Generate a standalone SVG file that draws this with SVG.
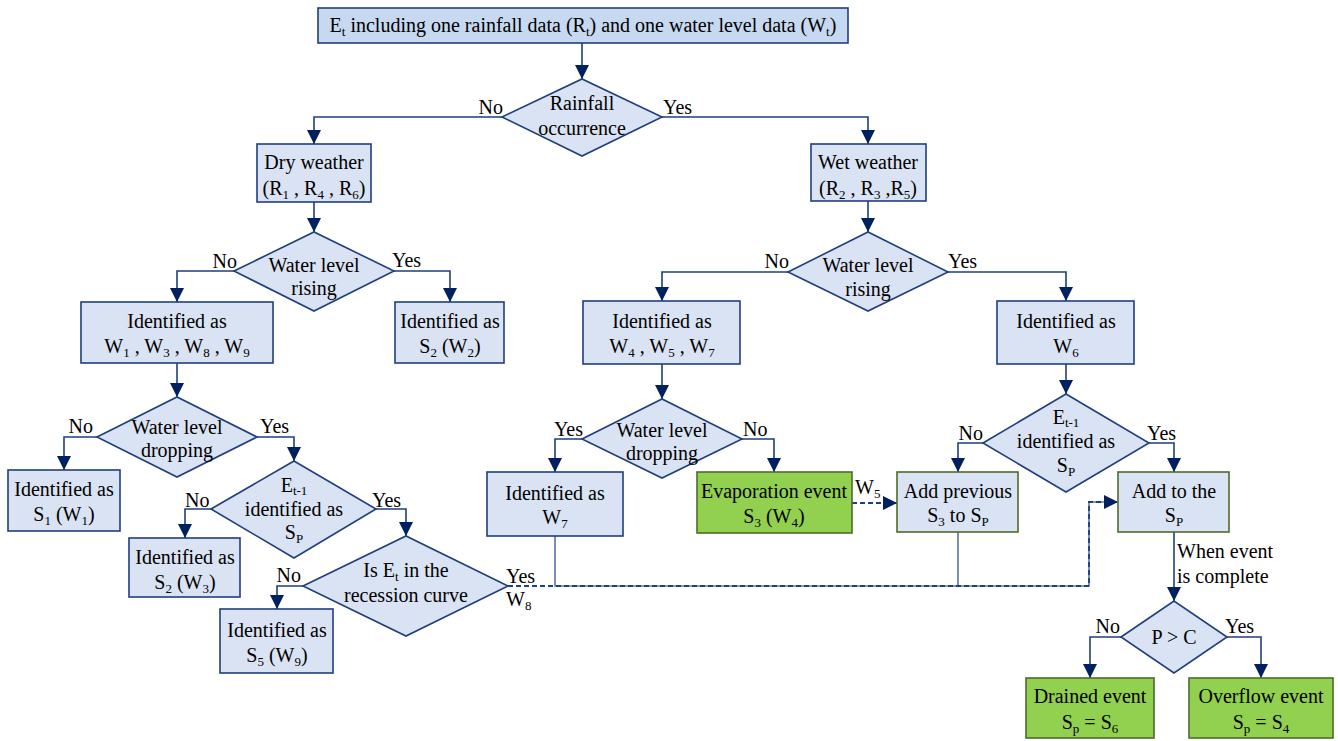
<svg xmlns="http://www.w3.org/2000/svg" width="1338" height="741" viewBox="0 0 1338 741" font-family="'Liberation Serif', 'Times New Roman', 'DejaVu Serif', serif">
<style>
.b{fill:#dae3f3;stroke:#203f7c;stroke-width:1.6}
.t{fill:#c6d9f1;stroke:#203f7c;stroke-width:1.6}
.g{fill:#92d050;stroke:#4f6b2a;stroke-width:1.6}
.bg{fill:#dae3f3;stroke:#4f6b2a;stroke-width:1.6}
.d{fill:#dae3f3;stroke:#203f7c;stroke-width:1.6}
text{font-family:'Liberation Serif', 'Times New Roman', 'DejaVu Serif', serif;font-size:20px;fill:#000}
.c{text-anchor:middle}
.e{text-anchor:end}
.ln{fill:none;stroke:#1f3f7a;stroke-width:1.6}
.sl{fill:none;stroke:#5a73a8;stroke-width:1.6}
.dl{fill:none;stroke:#1f3f7a;stroke-width:1.8;stroke-dasharray:5,3}
</style>
<defs>
<marker id="ah" markerUnits="userSpaceOnUse" markerWidth="14" markerHeight="14" refX="14" refY="7" orient="auto">
<path d="M0,0 L14,7 L0,14 z" fill="#002060"/>
</marker>
</defs>
<g id="connectors">
<path class="ln" d="M582,43 V79" marker-end="url(#ah)"/>
<path class="ln" d="M502,117 H314 V144" marker-end="url(#ah)"/>
<path class="ln" d="M662,117 H868 V144" marker-end="url(#ah)"/>
<path class="ln" d="M314,202 V232" marker-end="url(#ah)"/>
<path class="ln" d="M234,271 H177 V302" marker-end="url(#ah)"/>
<path class="ln" d="M394,271 H450 V302" marker-end="url(#ah)"/>
<path class="ln" d="M177,363 V397" marker-end="url(#ah)"/>
<path class="ln" d="M97,437 H64 V470" marker-end="url(#ah)"/>
<path class="ln" d="M257,437 H294 V461" marker-end="url(#ah)"/>
<path class="ln" d="M211,509 H185 V538" marker-end="url(#ah)"/>
<path class="ln" d="M376,509 H406 V536" marker-end="url(#ah)"/>
<path class="ln" d="M303,586 H277 V609" marker-end="url(#ah)"/>
<path class="sl" d="M555,536 V586 H1089 V502 H1105"/>
<path class="sl" d="M958,532 V586"/>
<path class="dl" d="M508,586 H1089 V502 H1118" marker-end="url(#ah)"/>
<path class="ln" d="M868,201 V232" marker-end="url(#ah)"/>
<path class="ln" d="M788,272 H662 V301" marker-end="url(#ah)"/>
<path class="ln" d="M948,272 H1066 V301" marker-end="url(#ah)"/>
<path class="ln" d="M662,364 V399" marker-end="url(#ah)"/>
<path class="ln" d="M582,439 H555 V472" marker-end="url(#ah)"/>
<path class="ln" d="M742,439 H774 V472" marker-end="url(#ah)"/>
<path class="dl" d="M852,503 H897" marker-end="url(#ah)"/>
<path class="ln" d="M1066,364 V394" marker-end="url(#ah)"/>
<path class="ln" d="M983,443 H958 V472" marker-end="url(#ah)"/>
<path class="ln" d="M1149,443 H1174 V472" marker-end="url(#ah)"/>
<path class="ln" d="M1174,532 V601" marker-end="url(#ah)"/>
<path class="ln" d="M1121,637 H1090 V678" marker-end="url(#ah)"/>
<path class="ln" d="M1227,637 H1261 V678" marker-end="url(#ah)"/>
<text class="e" x="503" y="114">No</text>
<text x="663" y="114">Yes</text>
<text class="e" x="237" y="268">No</text>
<text x="392" y="267">Yes</text>
<text class="e" x="93" y="433">No</text>
<text x="260" y="433">Yes</text>
<text x="185" y="507">No</text>
<text x="372" y="507">Yes</text>
<text class="e" x="301" y="582">No</text>
<text x="506" y="583">Yes</text>
<text x="506" y="606">W<tspan font-size="13" dy="4">8</tspan></text>
<text class="e" x="583" y="436">Yes</text>
<text x="743" y="436">No</text>
<text class="e" x="789" y="268">No</text>
<text x="948" y="268">Yes</text>
<text class="e" x="983" y="440">No</text>
<text x="1147" y="440">Yes</text>
<text x="855" y="494">W<tspan font-size="13" dy="4">5</tspan></text>
<text x="1177" y="558">When event</text>
<text x="1177" y="583">is complete</text>
<text class="e" x="1120" y="633">No</text>
<text x="1225" y="633">Yes</text>
</g>
<g id="n_top">
<rect class="t" x="318" y="8" width="530" height="35"/>
<text class="c" x="583" y="32">E<tspan font-size="13" dy="4">t</tspan><tspan dy="-4"> including one rainfall data (R</tspan><tspan font-size="13" dy="4">t</tspan><tspan dy="-4">) and one water level data (W</tspan><tspan font-size="13" dy="4">t</tspan><tspan dy="-4">)</tspan></text>
</g>
<g id="n_rain">
<polygon class="d" points="502,117 582,79 662,117 582,156"/>
<text class="c" x="582" y="110">Rainfall</text>
<text class="c" x="582" y="135">occurrence</text>
</g>
<g id="n_dry">
<rect class="b" x="257" y="144" width="114" height="58"/>
<text class="c" x="314" y="169">Dry weather</text>
<text class="c" x="314" y="195">(R<tspan font-size="13" dy="4">1</tspan><tspan dy="-4"> , R</tspan><tspan font-size="13" dy="4">4</tspan><tspan dy="-4"> , R</tspan><tspan font-size="13" dy="4">6</tspan><tspan dy="-4">)</tspan></text>
</g>
<g id="n_wet">
<rect class="b" x="811" y="144" width="115" height="57"/>
<text class="c" x="868" y="169">Wet weather</text>
<text class="c" x="868" y="195">(R<tspan font-size="13" dy="4">2</tspan><tspan dy="-4"> , R</tspan><tspan font-size="13" dy="4">3</tspan><tspan dy="-4"> ,R</tspan><tspan font-size="13" dy="4">5</tspan><tspan dy="-4">)</tspan></text>
</g>
<g id="n_rise_l">
<polygon class="d" points="234,271 314,232 394,271 314,311"/>
<text class="c" x="314" y="272">Water level</text>
<text class="c" x="314" y="295">rising</text>
</g>
<g id="n_w1389">
<rect class="b" x="81" y="302" width="192" height="61"/>
<text class="c" x="177" y="328">Identified as</text>
<text class="c" x="177" y="353">W<tspan font-size="13" dy="4">1</tspan><tspan dy="-4"> , W</tspan><tspan font-size="13" dy="4">3</tspan><tspan dy="-4"> , W</tspan><tspan font-size="13" dy="4">8</tspan><tspan dy="-4"> , W</tspan><tspan font-size="13" dy="4">9</tspan></text>
</g>
<g id="n_s2w2">
<rect class="b" x="395" y="302" width="109" height="61"/>
<text class="c" x="450" y="328">Identified as</text>
<text class="c" x="450" y="353">S<tspan font-size="13" dy="4">2</tspan><tspan dy="-4"> (W</tspan><tspan font-size="13" dy="4">2</tspan><tspan dy="-4">)</tspan></text>
</g>
<g id="n_drop_l">
<polygon class="d" points="97,437 177,397 257,437 177,477"/>
<text class="c" x="177" y="434">Water level</text>
<text class="c" x="177" y="457">dropping</text>
</g>
<g id="n_s1w1">
<rect class="b" x="8" y="470" width="112" height="61"/>
<text class="c" x="64" y="496">Identified as</text>
<text class="c" x="64" y="521">S<tspan font-size="13" dy="4">1</tspan><tspan dy="-4"> (W</tspan><tspan font-size="13" dy="4">1</tspan><tspan dy="-4">)</tspan></text>
</g>
<g id="n_e_l">
<polygon class="d" points="211,509 294,461 376,509 294,558"/>
<text class="c" x="294" y="492">E<tspan font-size="13" dy="3">t-1</tspan></text>
<text class="c" x="294" y="516">identified as</text>
<text class="c" x="294" y="539">S<tspan font-size="13" dy="4">P</tspan></text>
</g>
<g id="n_s2w3">
<rect class="b" x="129" y="538" width="111" height="59"/>
<text class="c" x="185" y="564">Identified as</text>
<text class="c" x="185" y="589">S<tspan font-size="13" dy="4">2</tspan><tspan dy="-4"> (W</tspan><tspan font-size="13" dy="4">3</tspan><tspan dy="-4">)</tspan></text>
</g>
<g id="n_recession">
<polygon class="d" points="303,586 406,536 508,586 406,636"/>
<text class="c" x="406" y="577">Is E<tspan font-size="13" dy="4">t</tspan><tspan dy="-4">  in the</tspan></text>
<text class="c" x="406" y="602">recession curve</text>
</g>
<g id="n_s5w9">
<rect class="b" x="220" y="609" width="113" height="64"/>
<text class="c" x="277" y="637">Identified as</text>
<text class="c" x="277" y="662">S<tspan font-size="13" dy="4">5</tspan><tspan dy="-4"> (W</tspan><tspan font-size="13" dy="4">9</tspan><tspan dy="-4">)</tspan></text>
</g>
<g id="n_rise_r">
<polygon class="d" points="788,272 868,232 948,272 868,311"/>
<text class="c" x="868" y="272">Water level</text>
<text class="c" x="868" y="296">rising</text>
</g>
<g id="n_w457">
<rect class="b" x="583" y="301" width="157" height="63"/>
<text class="c" x="662" y="328">Identified as</text>
<text class="c" x="662" y="353">W<tspan font-size="13" dy="4">4</tspan><tspan dy="-4"> , W</tspan><tspan font-size="13" dy="4">5</tspan><tspan dy="-4"> , W</tspan><tspan font-size="13" dy="4">7</tspan></text>
</g>
<g id="n_drop_r">
<polygon class="d" points="582,439 662,399 742,439 662,478"/>
<text class="c" x="662" y="437">Water level</text>
<text class="c" x="662" y="460">dropping</text>
</g>
<g id="n_w7">
<rect class="b" x="487" y="472" width="136" height="64"/>
<text class="c" x="555" y="500">Identified as</text>
<text class="c" x="555" y="524">W<tspan font-size="13" dy="4">7</tspan></text>
</g>
<g id="n_evap">
<rect class="g" x="697" y="472" width="155" height="61"/>
<text class="c" x="774" y="498">Evaporation event</text>
<text class="c" x="774" y="523">S<tspan font-size="13" dy="4">3</tspan><tspan dy="-4"> (W</tspan><tspan font-size="13" dy="4">4</tspan><tspan dy="-4">)</tspan></text>
</g>
<g id="n_w6">
<rect class="b" x="997" y="301" width="137" height="63"/>
<text class="c" x="1066" y="328">Identified as</text>
<text class="c" x="1066" y="353">W<tspan font-size="13" dy="4">6</tspan></text>
</g>
<g id="n_e_r">
<polygon class="d" points="983,443 1066,394 1149,443 1066,492"/>
<text class="c" x="1066" y="424">E<tspan font-size="13" dy="3">t-1</tspan></text>
<text class="c" x="1066" y="448">identified as</text>
<text class="c" x="1066" y="472">S<tspan font-size="13" dy="4">P</tspan></text>
</g>
<g id="n_addprev">
<rect class="bg" x="897" y="472" width="121" height="60"/>
<text class="c" x="958" y="498">Add previous</text>
<text class="c" x="958" y="522">S<tspan font-size="13" dy="4">3</tspan><tspan dy="-4"> to S</tspan><tspan font-size="13" dy="4">P</tspan></text>
</g>
<g id="n_addto">
<rect class="bg" x="1118" y="472" width="111" height="60"/>
<text class="c" x="1174" y="498">Add to the</text>
<text class="c" x="1174" y="522">S<tspan font-size="13" dy="4">P</tspan></text>
</g>
<g id="n_pc">
<polygon class="d" points="1121,637 1174,601 1227,637 1174,673"/>
<text class="c" x="1174" y="644">P &gt; C</text>
</g>
<g id="n_drained">
<rect class="g" x="1026" y="678" width="128" height="60"/>
<text class="c" x="1090" y="703">Drained event</text>
<text class="c" x="1090" y="729">S<tspan font-size="13" dy="4">p</tspan><tspan dy="-4"> = S</tspan><tspan font-size="13" dy="4">6</tspan></text>
</g>
<g id="n_overflow">
<rect class="g" x="1189" y="678" width="144" height="60"/>
<text class="c" x="1261" y="703">Overflow event</text>
<text class="c" x="1261" y="729">S<tspan font-size="13" dy="4">p</tspan><tspan dy="-4"> = S</tspan><tspan font-size="13" dy="4">4</tspan></text>
</g>
</svg>
